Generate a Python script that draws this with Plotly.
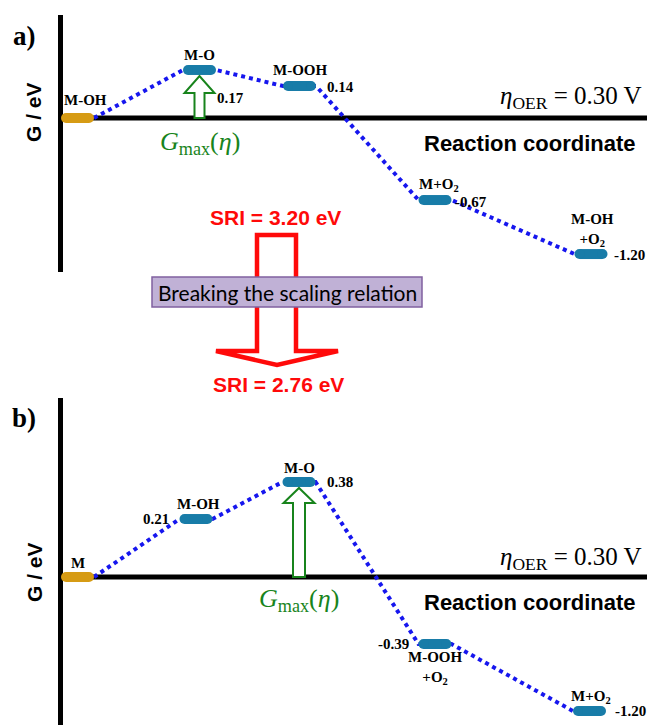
import plotly.graph_objects as go

PAGE_W, PAGE_H = 648, 725
W, H = PAGE_W, PAGE_H

# ---------------- data ----------------
a_names = ["M-OH", "M-O", "M-OOH", "M+O<sub>2</sub>", "M-OH<br>+O<sub>2</sub>"]
a_values = ["", "0.17", "0.14", "-0.67", "-1.20"]
a_x = [0.17, 1.39, 2.39, 3.745, 5.305]        # reaction-coordinate position of each level
a_y = [0.0, 0.425, 0.283, -0.726, -1.204]     # drawn (schematic) level height

b_names = ["M", "M-OH", "M-O", "M-OOH<br>+O<sub>2</sub>", "M+O<sub>2</sub>"]
b_values = ["", "0.21", "0.38", "-0.39", "-1.20"]
b_x = [0.17, 1.355, 2.385, 3.745, 5.29]
b_y = [0.0, 0.513, 0.841, -0.593, -1.186]

overpotential_label = "<i>η</i><sub>OER</sub> = 0.30 V"
gmax_label = "<i>G</i><sub>max</sub>(<i>η</i>)"
axis_title = "G / eV"
coord_title = "Reaction coordinate"
sri_before = "SRI = 3.20 eV"
sri_after = "SRI = 2.76 eV"
breaking_label = "Breaking the scaling relation"
panel_tags = ["a)", "b)"]

# ---------------- style / geometry ----------------
XPX, YPX = 100.0, 113.0          # px per axis unit
X0PX = 60.5                      # px position of x = 0
XR = [-X0PX / XPX, (W - X0PX) / XPX]
X_END = (647 - X0PX) / XPX

BLUE_PILL = "rgb(24,124,168)"
ORANGE_PILL = "rgb(214,155,20)"
DOT_BLUE = "rgb(22,22,238)"
GREEN = "rgb(24,132,28)"
RED = "rgb(255,10,10)"
SERIF = "Liberation Serif"
SANS = "Liberation Sans"

PILL_HALF = 11.5 / XPX           # half length of the pill core (markers add caps)
PILL_END = 16.5 / XPX            # half total pill width


def ydom(top_px, bot_px):
    return [max(0.0, 1 - bot_px / H), 1 - top_px / H]


panels = [
    dict(xa="x", ya="y", names=a_names, values=a_values, xs=a_x, ys=a_y,
         dom=ydom(15, 272), axis_px=118, top_px=15, bot_px=272,
         name_off=[(7.5, 18, "center"), (0, 15, "center"), (0, 16, "center"), (4, 15, "center"), (1, 24, "center")],
         val_off=[None, (15.5, -28, "left"), (25.5, -1, "left"), (18, -2, "left"), (21, -1, "left")],
         gmax_dy=-25, eta_dy=21, coord_dy=-25, arrow=dict(shaft=5, head=15, headh=17)),
    dict(xa="x2", ya="y2", names=b_names, values=b_values, xs=b_x, ys=b_y,
         dom=ydom(398, PAGE_H), axis_px=577, top_px=398, bot_px=PAGE_H,
         name_off=[(0, 14, "center"), (2, 15, "center"), (0, 14, "center"), (0, -24, "center"), (1, 14, "center")],
         val_off=[None, (-25, 0, "right"), (26, 0, "left"), (-24, 0, "right"), (23.5, 0, "left")],
         gmax_dy=-23, eta_dy=19, coord_dy=-25, arrow=dict(shaft=6, head=15.5, headh=15)),
]

fig = go.Figure()
shapes = []
annotations = []

for p in panels:
    xa, ya = p["xa"], p["ya"]
    top = (p["axis_px"] - p["top_px"]) / YPX
    bot = (p["axis_px"] - p["bot_px"]) / YPX
    p["range"] = [bot, top]
    xs, ys = p["xs"], p["ys"]

    # axes drawn as thick black lines
    shapes.append(dict(type="line", xref=xa, yref=ya, x0=0, x1=0, y0=bot, y1=top,
                       line=dict(color="black", width=5), layer="below"))
    shapes.append(dict(type="line", xref=xa, yref=ya, x0=0, x1=X_END, y0=0, y1=0,
                       line=dict(color="black", width=5), layer="below"))

    # dotted connectors
    dx, dy = [], []
    n = len(xs)
    for i in range(n):
        if i > 0:
            dx.append(xs[i] - PILL_END); dy.append(ys[i])
        if i < n - 1:
            dx.append(xs[i] + PILL_END); dy.append(ys[i])
    fig.add_trace(go.Scatter(x=dx, y=dy, mode="lines", xaxis=xa, yaxis=ya,
                             line=dict(color=DOT_BLUE, width=4, dash="dot"),
                             hoverinfo="skip", showlegend=False))

    # energy level pills
    for i in range(n):
        col = ORANGE_PILL if i == 0 else BLUE_PILL
        fig.add_trace(go.Scatter(x=[xs[i] - PILL_HALF, xs[i] + PILL_HALF], y=[ys[i], ys[i]],
                                 mode="lines+markers", xaxis=xa, yaxis=ya,
                                 line=dict(color=col, width=10),
                                 marker=dict(color=col, size=10, line=dict(width=0)),
                                 hoverinfo="skip", showlegend=False))

    # level labels and values
    lab_font = dict(family=SERIF, size=15, color="black", weight="bold")
    for i in range(n):
        ox, oy, anc = p["name_off"][i]
        annotations.append(dict(x=xs[i], y=ys[i], xref=xa, yref=ya, text=p["names"][i],
                                showarrow=False, xshift=ox, yshift=oy, xanchor=anc, yanchor="middle",
                                font=lab_font))
        if p["values"][i]:
            ox, oy, anc = p["val_off"][i]
            annotations.append(dict(x=xs[i], y=ys[i], xref=xa, yref=ya, text=p["values"][i],
                                    showarrow=False, xshift=ox, yshift=oy, xanchor=anc, yanchor="middle",
                                    font=lab_font))

    # hollow green arrow up to the highest intermediate
    k = max(range(n), key=lambda j: ys[j])
    ar = p["arrow"]
    cx = xs[k]
    tip = ys[k] - 6 / YPX
    hb = tip - ar["headh"] / YPX
    base = 0.0
    s, h = ar["shaft"] / XPX, ar["head"] / XPX
    path = (f"M {cx - s},{base} L {cx - s},{hb} L {cx - h},{hb} L {cx},{tip} "
            f"L {cx + h},{hb} L {cx + s},{hb} L {cx + s},{base} Z")
    shapes.append(dict(type="path", xref=xa, yref=ya, path=path, fillcolor="white",
                       line=dict(color=GREEN, width=2), layer="above"))
    annotations.append(dict(x=cx, y=0, xref=xa, yref=ya, text=gmax_label, showarrow=False,
                            yshift=p["gmax_dy"], xanchor="center", yanchor="middle",
                            font=dict(family=SERIF, size=26, color=GREEN)))
    annotations.append(dict(x=(644 - X0PX) / XPX, y=0, xref=xa, yref=ya, text=overpotential_label,
                            showarrow=False, yshift=p["eta_dy"], xanchor="right", yanchor="middle",
                            font=dict(family=SERIF, size=25, color="black")))
    annotations.append(dict(x=(529 - X0PX) / XPX, y=0, xref=xa, yref=ya, text=coord_title,
                            showarrow=False, yshift=p["coord_dy"], xanchor="center", yanchor="middle",
                            font=dict(family=SANS, size=22, color="black", weight="bold")))


def P(xp, yp):
    """pixel -> paper coordinates"""
    return xp / W, 1 - yp / H


# panel tags and y titles
for tag, (tx, ty), (gx, gy) in zip(panel_tags, [(24, 36), (24, 418)], [(34, 112), (34, 572)]):
    px_, py_ = P(tx, ty)
    annotations.append(dict(x=px_, y=py_, xref="paper", yref="paper", text=tag, showarrow=False,
                            xanchor="center", yanchor="middle",
                            font=dict(family=SERIF, size=27, color="black", weight="bold")))
    gx_, gy_ = P(gx, gy)
    annotations.append(dict(x=gx_, y=gy_, xref="paper", yref="paper", text=axis_title, showarrow=False,
                            textangle=-90, xanchor="center", yanchor="middle",
                            font=dict(family=SANS, size=21, color="black", weight="bold")))

# big red hollow arrow
pts = [(257, 235), (296, 235), (296, 351), (338, 351), (277, 365), (216, 351), (257, 351)]
pp = [P(*q) for q in pts]
red_path = "M " + " L ".join(f"{a},{b}" for a, b in pp) + " Z"
shapes.append(dict(type="path", xref="paper", yref="paper", path=red_path, fillcolor="rgba(0,0,0,0)",
                   line=dict(color=RED, width=4.5), layer="above"))

# purple box
bx0, by0 = P(152, 277)
bx1, by1 = P(422, 307)
shapes.append(dict(type="rect", xref="paper", yref="paper", x0=bx0, y0=by1, x1=bx1, y1=by0,
                   fillcolor="rgb(192,177,214)", line=dict(color="rgb(128,96,160)", width=1.5),
                   layer="above"))
cx_, cy_ = P(287, 292)
annotations.append(dict(x=cx_, y=cy_, xref="paper", yref="paper", text=breaking_label, showarrow=False,
                        xanchor="center", yanchor="middle", font=dict(family="Lato", size=21, color="black")))

for txt, (tx, ty) in [(sri_before, (275, 217)), (sri_after, (278, 385))]:
    tx_, ty_ = P(tx, ty)
    annotations.append(dict(x=tx_, y=ty_, xref="paper", yref="paper", text=txt, showarrow=False,
                            xanchor="center", yanchor="middle",
                            font=dict(family=SANS, size=21, color=RED, weight="bold")))

axis_style = dict(showgrid=False, zeroline=False, showticklabels=False, showline=False, ticks="",
                  fixedrange=True)
fig.update_layout(
    width=W, height=H, margin=dict(l=0, r=0, t=0, b=0),
    paper_bgcolor="white", plot_bgcolor="white", showlegend=False,
    xaxis=dict(domain=[0, 1], range=XR, anchor="y", **axis_style),
    yaxis=dict(domain=panels[0]["dom"], range=panels[0]["range"], anchor="x", **axis_style),
    xaxis2=dict(domain=[0, 1], range=XR, anchor="y2", **axis_style),
    yaxis2=dict(domain=panels[1]["dom"], range=panels[1]["range"], anchor="x2", **axis_style),
    shapes=shapes, annotations=annotations,
)

# remove the default 8px page margin so the figure fills the window exactly
fig.write_html("out.html", config={"displayModeBar": False},
               post_script="document.body.style.margin='0px';document.body.style.overflow='hidden';")
